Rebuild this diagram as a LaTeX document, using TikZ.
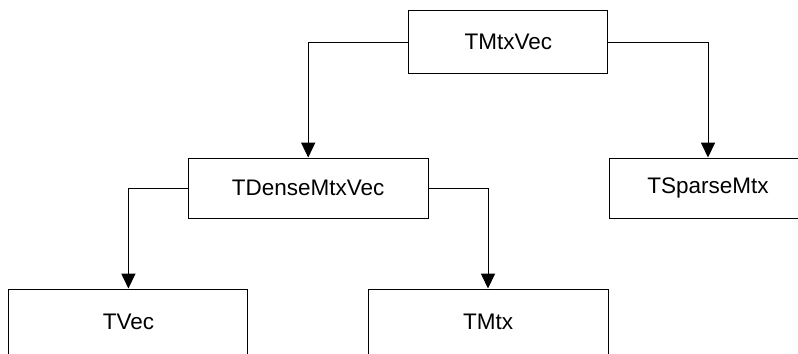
\documentclass[tikz,border=0pt]{standalone}
\usepackage{fontspec}
\setmainfont{Liberation Sans}
\usetikzlibrary{arrows.meta}

\tikzset{
  classbox/.style={draw, line width=0.7pt, inner sep=0pt,
    font=\fontsize{16}{19}\selectfont, minimum height=1.5cm},
  inherit/.style={-{Triangle[length=3.7mm,width=3.5mm]}, line width=0.7pt}
}

\begin{document}
\begin{tikzpicture}

\useasboundingbox
(0,0)
rectangle
(19.95,8.825);

\node[classbox, minimum width=4.975cm, minimum height=1.575cm]
(mtxvec)
at (12.71,7.77)
{TMtxVec};

\node[classbox, minimum width=5.99cm]
(densemtxvec)
at (7.705,4.125)
{TDenseMtxVec};

\node[classbox, minimum width=4.95cm]
(sparsemtx)
at (17.7,4.125)
{TSparseMtx};

\node[classbox, minimum width=5.975cm, minimum height=1.65cm]
(vec)
at (3.21,0.775)
{TVec};

\node[classbox, minimum width=6cm, minimum height=1.65cm]
(mtx)
at (12.2,0.775)
{TMtx};

% TMtxVec
\draw[inherit]
(mtxvec.west)
-|
(densemtxvec.north);

\draw[inherit]
(mtxvec.east)
-|
(sparsemtx.north);

% TDenseMtxVec
\draw[inherit]
(densemtxvec.west)
-|
(vec.north);

\draw[inherit]
(densemtxvec.east)
-|
(mtx.north);

\end{tikzpicture}
\end{document}
